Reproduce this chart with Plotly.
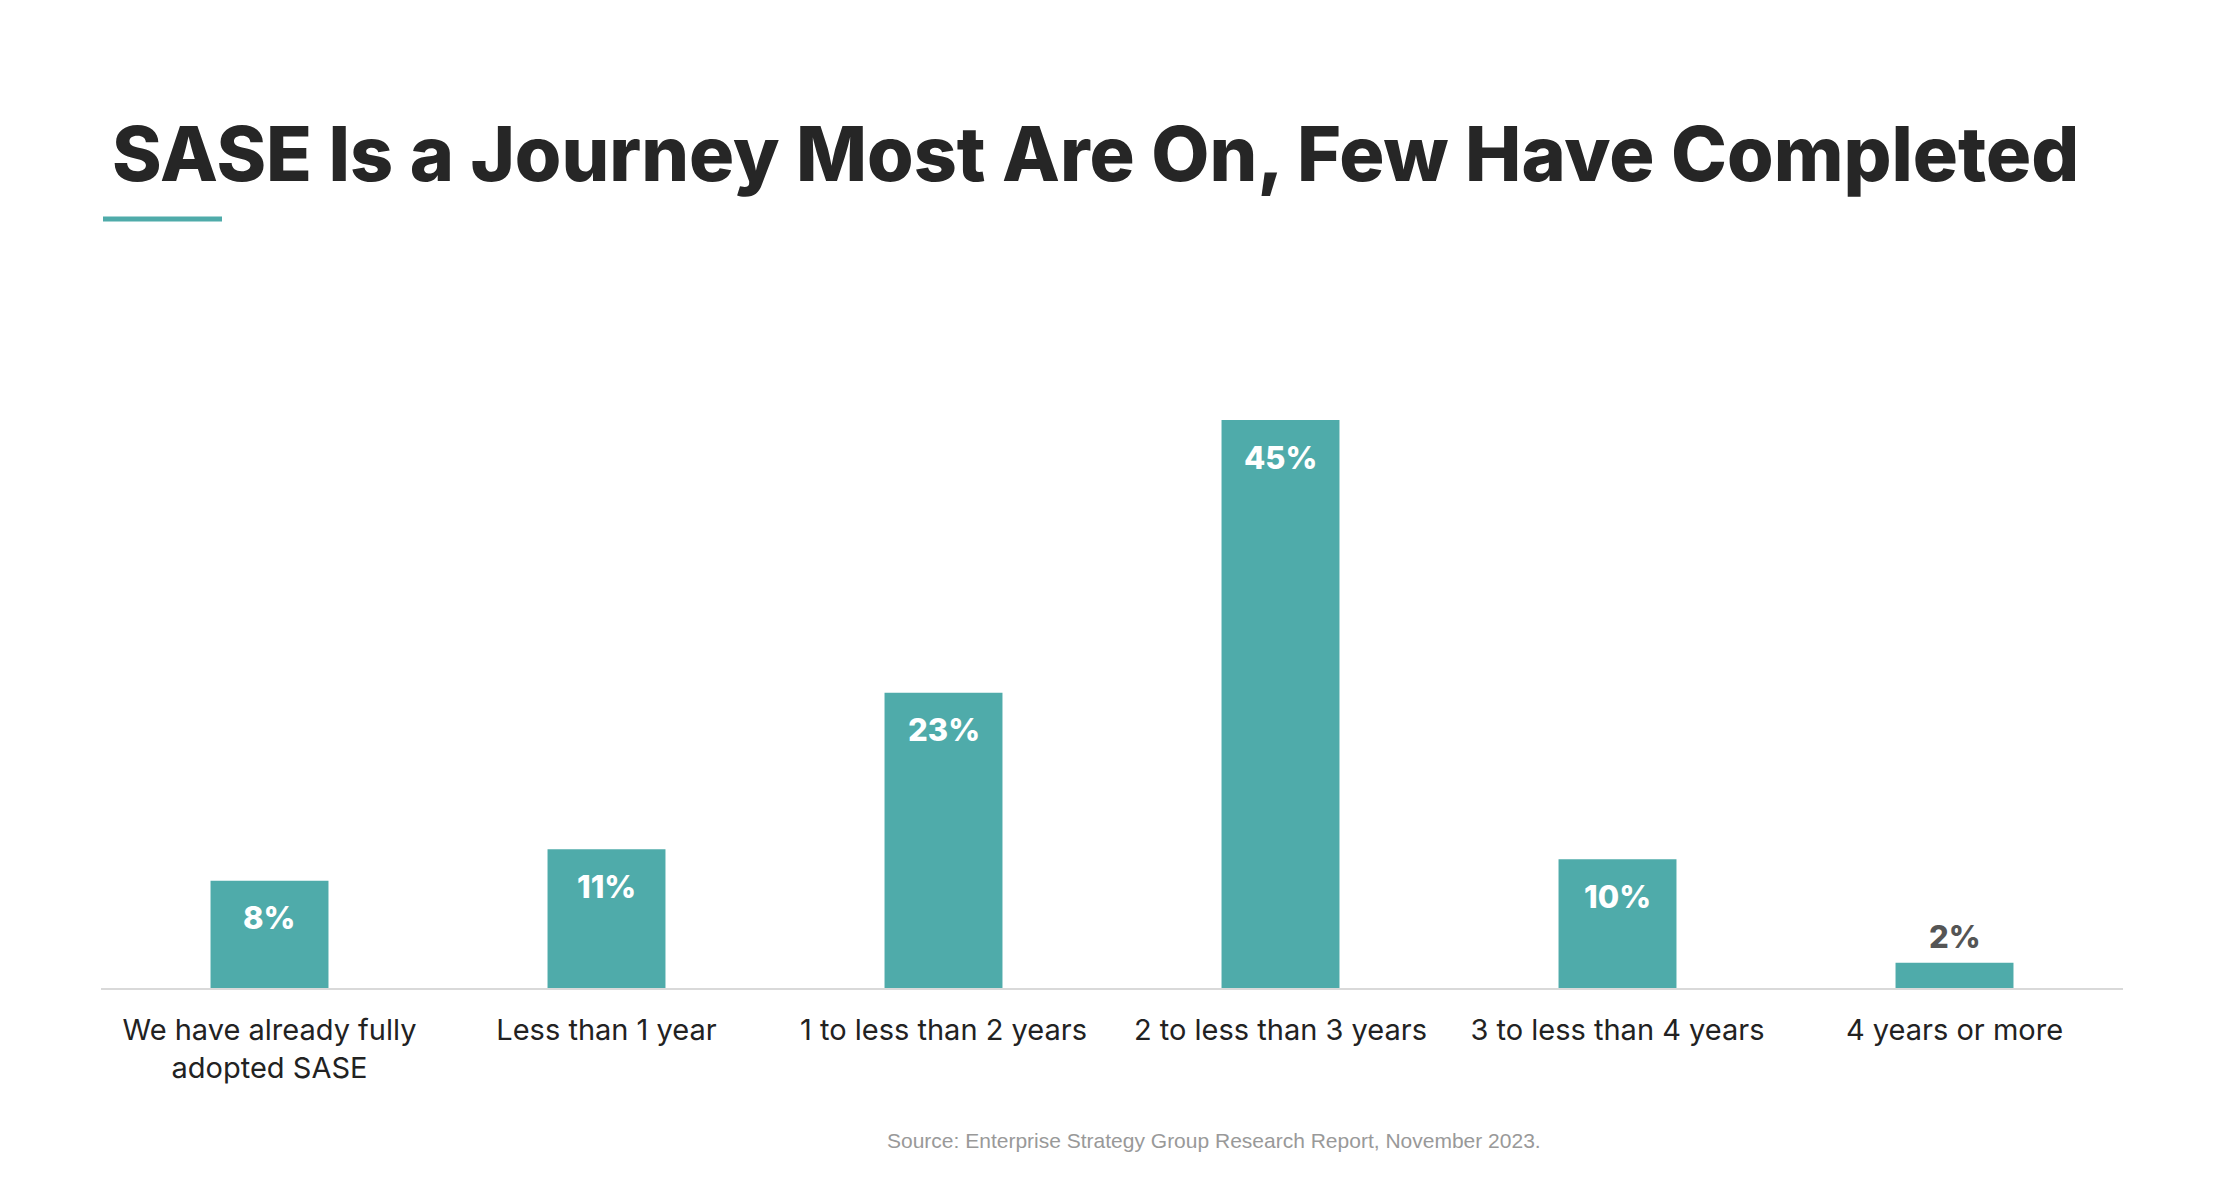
import plotly.graph_objects as go

categories = ["We have already fully<br>adopted SASE", "Less than 1 year", "1 to less than 2 years",
              "2 to less than 3 years", "3 to less than 4 years", "4 years or more"]
# bar heights (percent)
values = [8.5, 11, 23.4, 45, 10.2, 2]
labels = ["8%", "11%", "23%", "45%", "10%", "2%"]

TEAL = "#4FABAA"
x = list(range(len(categories)))

fig = go.Figure(go.Bar(x=x, y=values, marker_color=TEAL, marker_line_width=0, hoverinfo="skip"))

annotations = []
for xi, v, lab in zip(x, values, labels):
    if v >= 5:
        annotations.append(dict(x=xi, y=v, xref="x", yref="y", text=lab, showarrow=False,
                                yanchor="middle", yshift=-37,
                                font=dict(family="Inter", size=31, color="white", weight=800)))
    else:
        annotations.append(dict(x=xi, y=v, xref="x", yref="y", text=lab, showarrow=False,
                                yanchor="middle", yshift=26,
                                font=dict(family="Inter", size=31, color="#555555", weight=800)))

annotations.append(dict(xref="paper", yref="paper", x=(1214 - 101) / 2022, y=(988 - 1140) / 631,
                        text="Source: Enterprise Strategy Group Research Report, November 2023.",
                        showarrow=False, xanchor="center", yanchor="middle",
                        font=dict(family="Liberation Sans", size=21, color="#999999")))

annotations.append(dict(xref="paper", yref="paper", x=(110 - 101) / 2022, y=(988 - 153) / 631,
                        text="SASE Is a Journey Most Are On, Few Have Completed",
                        showarrow=False, xanchor="left", yanchor="middle",
                        font=dict(family="Inter", size=75.3, color="#262626", weight=800)))

fig.update_layout(
    width=2220, height=1178,
    margin=dict(l=101, r=97, t=357, b=190),
    paper_bgcolor="white", plot_bgcolor="white",
    bargap=0.65,
    showlegend=False,
    annotations=annotations,
    shapes=[dict(type="line", xref="paper", yref="paper",
                 x0=(103 - 101) / 2022, x1=(222 - 101) / 2022,
                 y0=(988 - 219) / 631, y1=(988 - 219) / 631,
                 line=dict(color=TEAL, width=5))],
    xaxis=dict(range=[-0.5, 5.5], tickvals=x, ticktext=categories, showgrid=False, zeroline=False,
               showline=True, linecolor="#d9d9d9", linewidth=2, ticks="outside", ticklen=15,
               tickcolor="rgba(0,0,0,0)",
               tickfont=dict(family="Inter", size=29, color="#222222")),
    yaxis=dict(range=[0, 50], visible=False, fixedrange=True),
)

fig.write_html("out.html")
